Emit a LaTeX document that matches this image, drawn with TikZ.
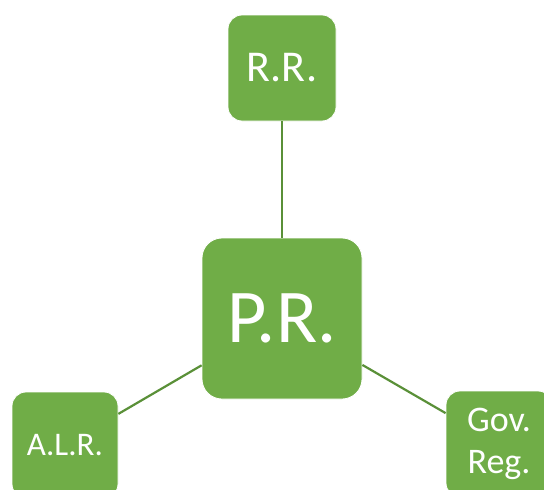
\documentclass[tikz,border=0pt]{standalone}
\usepackage{fontspec}
\setmainfont{Carlito}
\definecolor{boxgreen}{HTML}{70AD47}
\definecolor{linegreen}{HTML}{5A9038}
\begin{document}
\begin{tikzpicture}[x=1pt,y=-1pt,
  gbox/.style={draw=white,line width=0.8pt,fill=boxgreen,text=white,rectangle,inner sep=0pt,align=center},
  conn/.style={draw=linegreen,line width=2.2pt}]
\useasboundingbox (0,0) rectangle (544,490);
\node[gbox,rounded corners=14pt,minimum width=108pt,minimum height=106pt,font=\fontsize{44}{50}\selectfont] (rr) at (282,68) {R.R.};
\node[gbox,rounded corners=20pt,minimum width=160pt,minimum height=161pt,font=\fontsize{76}{85}\selectfont] (pr) at (282,318.5) {P.R.};
\node[gbox,rounded corners=14pt,minimum width=106pt,minimum height=106pt,font=\fontsize{33}{38}\selectfont] (alr) at (65,445) {A.L.R.};
\node[gbox,rounded corners=14pt,minimum width=106pt,minimum height=106pt,font=\fontsize{36}{42}\selectfont] (gov) at (499,444) {Gov.\\Reg.};
\draw[conn] (rr) -- (pr);
\draw[conn] (pr) -- (alr);
\draw[conn] (pr) -- (gov);
\end{tikzpicture}
\end{document}
